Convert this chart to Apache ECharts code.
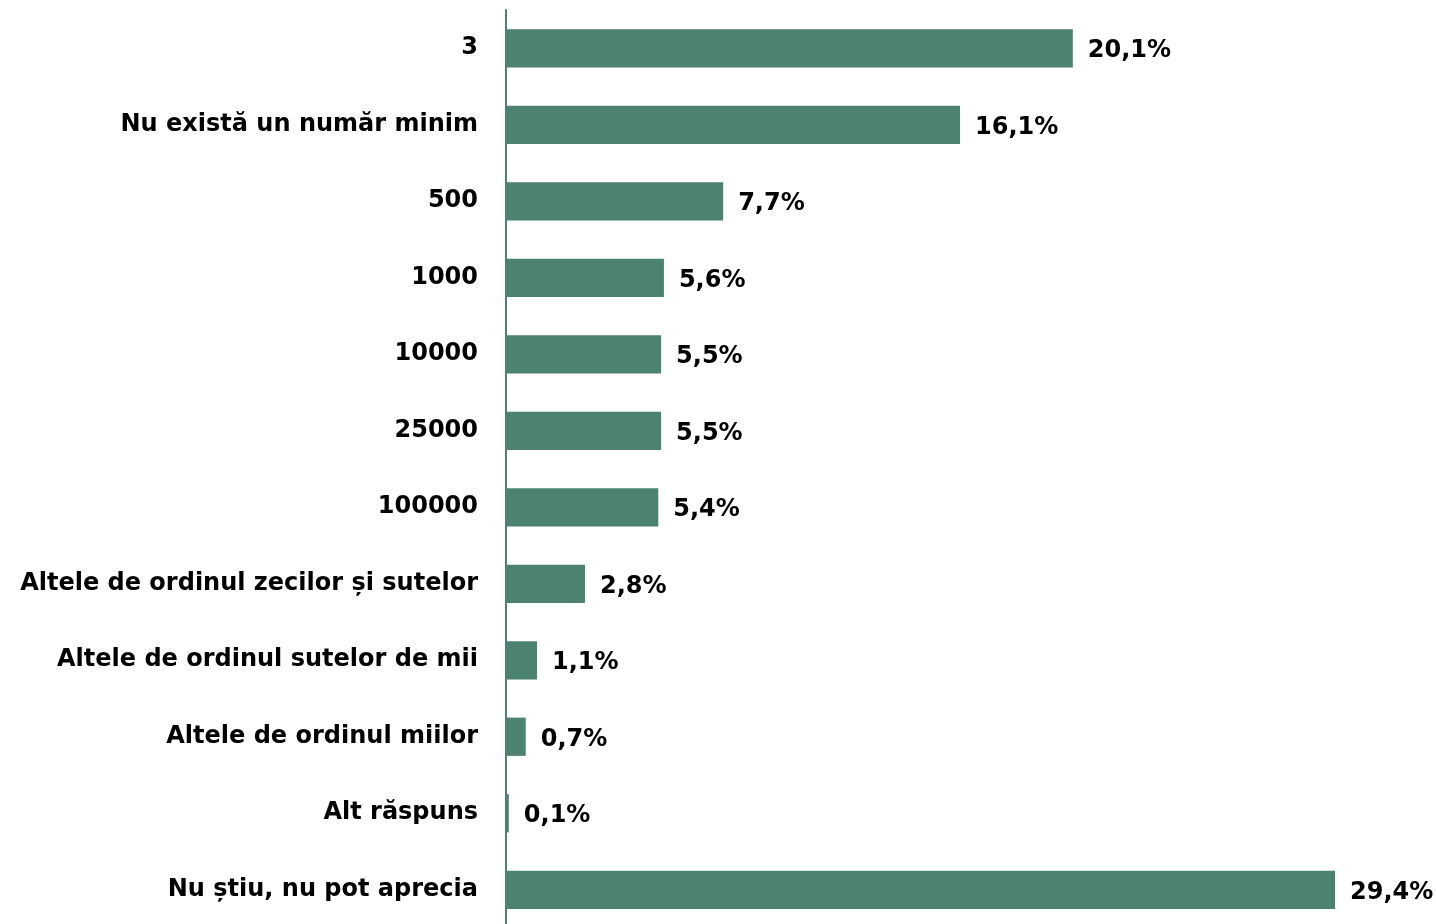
<!DOCTYPE html>
<html>
<head>
<meta charset="utf-8">
<script src="https://cdn.jsdelivr.net/npm/echarts@6/dist/echarts.min.js"></script>
<style>
html, body { margin: 0; padding: 0; background: #fff; }
#chart { width: 1436px; height: 924px; }
</style>
</head>
<body>
<div id="chart"></div>
<script>
// categories top -> bottom
const categories = [
    '3',
    'Nu există un număr minim',
    '500',
    '1000',
    '10000',
    '25000',
    '100000',
    'Altele de ordinul zecilor și sutelor',
    'Altele de ordinul sutelor de mii',
    'Altele de ordinul miilor',
    'Alt răspuns',
    'Nu știu, nu pot aprecia'
]
const values = [20.1, 16.1, 7.7, 5.6, 5.5, 5.5, 5.4, 2.8, 1.1, 0.7, 0.1, 29.4]

const green = '#4b8270'
const font = 'DejaVu Sans'

const chart = echarts.init(document.getElementById('chart'))

const option = {
    animation: false,
    grid: {
        left: 506,
        width: 846,
        top: 10,
        height: 918,
        outerBoundsMode: 'none'
    },
    xAxis: {
        type: 'value',
        min: 0,
        max: 30,
        show: false
    },
    yAxis: {
        type: 'category',
        inverse: true,
        data: categories,
        axisLine: { show: true, lineStyle: { color: green, width: 2 } },
        axisTick: { show: false },
        axisLabel: {
            margin: 28,
            color: '#000',
            fontFamily: font,
            fontWeight: 'bold',
            fontSize: 24,
            padding: [6, 0, 0, 0]
        }
    },
    series: [{
        type: 'bar',
        data: values,
        barCategoryGap: '50%',
        itemStyle: { color: green },
        label: {
            show: true,
            position: 'right',
            distance: 15,
            offset: [0, 3],
            color: '#000',
            fontFamily: font,
            fontWeight: 'bold',
            fontSize: 24,
            formatter: p => String(p.value).replace('.', ',') + '%'
        }
    }]
}
chart.setOption(option)
</script>
</body>
</html>
